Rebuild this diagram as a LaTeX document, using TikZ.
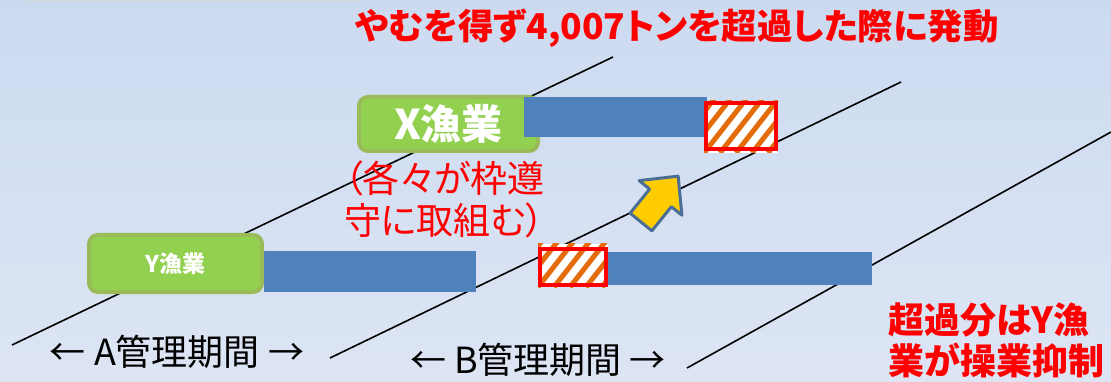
\documentclass[tikz,border=0pt]{standalone}
\usepackage{fontspec}
\setmainfont{Noto Sans CJK JP}[RawFeature=+palt]
\usetikzlibrary{calc}
\definecolor{bgtop}{RGB}{204,218,240}
\definecolor{bgbot}{RGB}{221,229,244}
\definecolor{barblue}{RGB}{79,129,189}
\definecolor{lgreen}{RGB}{146,208,80}
\definecolor{olivegr}{RGB}{155,187,89}
\definecolor{hatchor}{RGB}{228,108,10}
\definecolor{arrowy}{RGB}{255,204,0}
\definecolor{arrowb}{RGB}{74,110,150}
\definecolor{stripgray}{RGB}{214,214,214}
\newcommand\hatchfill[4]{%
  \begin{scope}
    \clip (#1,#2) rectangle (#3,#4);
    \fill[white] (#1,#2) rectangle (#3,#4);
    \foreach \k in {-6,...,8} \draw[hatchline] ({#1+\k*16},#4) -- ++(52:100pt);
  \end{scope}}
\tikzset{
  divline/.style={black, line width=1.6pt},
  fishbox/.style={rectangle, rounded corners=9pt, fill=lgreen, draw=olivegr, line width=4pt, inner sep=0pt, outer sep=0pt, text=white},
  bar/.style={rectangle, fill=barblue, draw=none, inner sep=0pt, outer sep=0pt},
  overbox/.style={rectangle, draw=red, line width=3.5pt, inner sep=0pt},
  hatchline/.style={hatchor, line width=5pt},
  redtxt/.style={text=red, inner sep=0pt},
  blacktxt/.style={text=black, inner sep=0pt},
  bigarrow/.style={draw=arrowb, fill=arrowy, line width=3pt, line join=round},
}
\begin{document}
\begin{tikzpicture}[x=1pt,y=-1pt]
\useasboundingbox (0,0) rectangle (1111,382);
\fill[top color=bgtop, bottom color=bgbot] (0,0) rectangle (1111,382);
\fill[stripgray] (27,0) rectangle (363,1.3);
% diagonal lines
\coordinate (l1a) at (12,345); \coordinate (l1b) at (613,57);
\coordinate (l2a) at (330,358); \coordinate (l2b) at (901,82);
\coordinate (l3a) at (687,368); \coordinate (l3b) at (1111,132);
\draw[divline] (l1a) -- (l1b);
\draw[divline] (l2a) -- (l2b);
\draw[divline] (l3a) -- (l3b);
% X fishery
\node[fishbox, minimum width=179pt, minimum height=54pt, font=\bfseries\fontsize{41}{44}\selectfont] (xbox) at (448.5,124) {X漁業};
\node[bar, minimum width=183pt, minimum height=40pt] (xbar) at (615.5,117) {};
\hatchfill{704}{101}{778}{153}
\node[overbox, minimum width=70pt, minimum height=46pt] (xover) at (741,126) {};
% Y fishery
\node[fishbox, minimum width=173pt, minimum height=57pt, font=\bfseries\fontsize{23}{26}\selectfont] (ybox) at (175.5,263.5) {Y漁業};
\node[bar, minimum width=212pt, minimum height=41pt] (ybar1) at (370,271.5) {};
\node[bar, minimum width=264pt, minimum height=33pt] (ybar2) at (740,268.5) {};
\hatchfill{538}{244}{608}{287}
\node[overbox, minimum width=66pt, minimum height=36pt] (yover) at (573,267) {};
% arrow
\begin{scope}[shift={(641,222)}, rotate=51]
  \draw[bigarrow] (0,-14) -- (31,-14) -- (31,-27.5) -- (59,0) -- (31,27.5) -- (31,14) -- (0,14) -- cycle;
\end{scope}
% texts
\node[redtxt, font=\bfseries\fontsize{35.5}{40}\selectfont] (title) at (677,28) {やむを得ず4,007トンを超過した際に発動};
\node[redtxt, font=\fontsize{37}{42}\selectfont, align=left, anchor=base west] (note) at (344,235) {（各々が枠遵\\守に取組む）};
\node[blacktxt, font=\fontsize{36}{40}\selectfont] (pa) at (177,352) {← A管理期間 →};
\node[blacktxt, font=\fontsize{36}{40}\selectfont] (pb) at (538,360) {← B管理期間 →};
\node[redtxt, font=\bfseries\fontsize{36}{41}\selectfont, align=left, anchor=base west] (yres) at (888,374) {超過分はY漁\\業が操業抑制};
\end{tikzpicture}
\end{document}
